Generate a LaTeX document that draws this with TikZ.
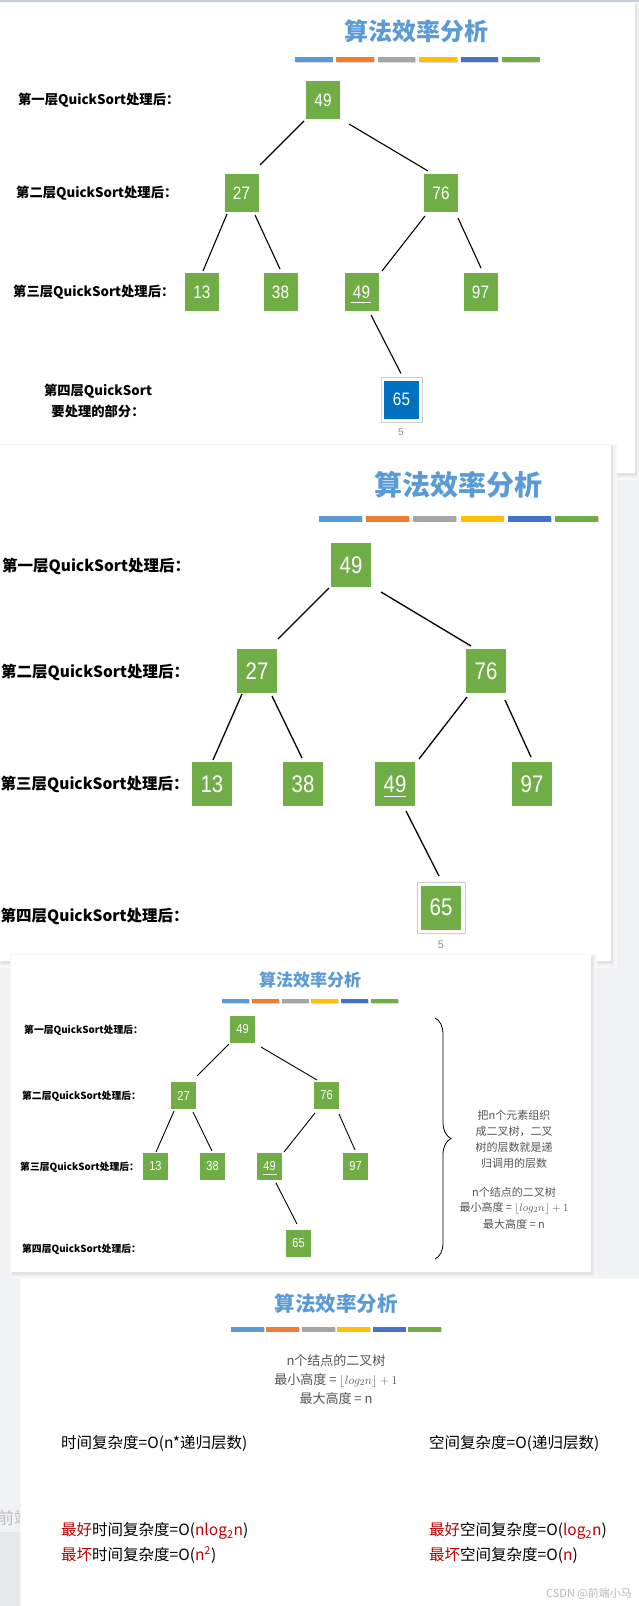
\documentclass[tikz,border=0pt]{standalone}
\usepackage{fontspec}
\setmainfont{Liberation Sans}
\newfontfamily\cjk{Noto Sans CJK SC}
\newfontfamily\numf[FakeStretch=0.85]{Liberation Sans}
\usetikzlibrary{calc,decorations.pathreplacing}
\definecolor{bg}{HTML}{F1F2F5}
\definecolor{tblue}{HTML}{5B9BD5}
\definecolor{cA}{HTML}{5B9BD5}
\definecolor{cB}{HTML}{ED7D31}
\definecolor{cC}{HTML}{A5A5A5}
\definecolor{cD}{HTML}{FFC000}
\definecolor{cE}{HTML}{4472C4}
\definecolor{cF}{HTML}{70AD47}
\definecolor{ngreen}{HTML}{70AD47}
\definecolor{nblue}{HTML}{0070C0}
\definecolor{dred}{HTML}{C00000}
\definecolor{gtext}{HTML}{555555}
\definecolor{topstrip}{HTML}{C4CEDD}
\definecolor{rstrip}{HTML}{E2E5EA}
\definecolor{redmark}{HTML}{E05A5A}
\definecolor{lowleft}{HTML}{E6E7EB}
\newcommand\myfs[1]{\fontsize{#1}{#1}\selectfont}
\newcommand\cbar[5]{\foreach \barcol [count=\bi from 0] in {cA,cB,cC,cD,cE,cF}{%
  \fill[black!15] ({#1+\bi*(#3+#4)+0.8},{#2+0.8}) rectangle ++(#3,#5);
  \fill[\barcol] ({#1+\bi*(#3+#4)},#2) rectangle ++(#3,#5);}}
\newcommand\myslide[4]{%
  \fill[black!3] (#1-1,#2-1) rectangle (#3+6,#4+7);
  \fill[black!6] (#1,#2) rectangle (#3+4,#4+5);
  \fill[black!11] (#1+1,#2+1) rectangle (#3+2,#4+2.5);
  \fill[white] (#1,#2) rectangle (#3,#4);}
\tikzset{
  nd/.style={fill=ngreen, text=white, inner sep=0pt, outer sep=0pt},
  sa/.style={nd, minimum width=34pt, minimum height=38pt, font=\numf\myfs{18}},
  sb/.style={nd, minimum width=40pt, minimum height=44pt, font=\numf\myfs{24}},
  sc/.style={nd, minimum width=25pt, minimum height=27pt, font=\numf\myfs{13}},
  ea/.style={line width=1.1pt, black},
  eb/.style={line width=1.3pt, black},
  ec/.style={line width=0.9pt, black},
  lab/.style={anchor=west, inner sep=0pt, font=\cjk\bfseries},
  ttl/.style={inner sep=0pt, text=tblue, font=\cjk\bfseries},
  pg/.style={inner sep=0pt, text=black!45},
  gt/.style={inner sep=0pt, text=gtext, font=\cjk\myfs{11}},
  ft/.style={inner sep=0pt, text=gtext, font=\cjk\myfs{13}},
  bt/.style={anchor=west, inner sep=0pt, font=\cjk\myfs{15.5}},
}
\begin{document}
\begin{tikzpicture}[x=1pt,y=-1pt]
\useasboundingbox (0,0) rectangle (639,1606);
% background
\fill[bg] (0,0) rectangle (639,1606);
\fill[topstrip] (0,0) rectangle (639,3);
\fill[rstrip] (635,3) rectangle (639,473);
\fill[redmark] (635,76) rectangle (639,100);
\foreach \yy in {365,369,373,377,381,385}{\draw[black!40,line width=0.5pt] (635,\yy) -- (639,\yy);}
\node[anchor=west, inner sep=0pt, text=black!25, font=\cjk\myfs{17}] (qian) at (-3,1518) {前端};
\fill[lowleft] (0,1532) rectangle (21,1606);

%================ slide 1
\myslide{0}{3}{635}{473}
\node[ttl, font=\cjk\bfseries\myfs{24}] (t1) at (416,31) {算法效率分析};
\cbar{295}{57}{37.5}{3.9}{5}
\node[lab, font=\cjk\bfseries\myfs{13.3}] (l11) at (18,100) {第一层QuickSort处理后：};
\node[lab, font=\cjk\bfseries\myfs{13.3}] (l12) at (16,193) {第二层QuickSort处理后：};
\node[lab, font=\cjk\bfseries\myfs{13.3}] (l13) at (13,292) {第三层QuickSort处理后：};
\node[inner sep=0pt, align=center, font=\cjk\bfseries\myfs{13.3}] (l14) at (98,401) {第四层QuickSort\\[6pt]要处理的部分：};
\node[sa] (a49) at (323,100) {49};
\node[sa] (a27) at (241.5,193) {27};
\node[sa] (a76) at (441,193) {76};
\node[sa] (a13) at (202,292) {13};
\node[sa] (a38) at (280.5,292) {38};
\node[sa] (a49b) at (361.5,292) {49};
\node[sa] (a97) at (480.5,292) {97};
\node[draw=black!20, line width=0.8pt, fill=white, minimum width=41pt, minimum height=45pt, inner sep=0pt] (a65f) at (401.5,399.5) {};
\node[sa, fill=nblue, minimum width=35pt] (a65) at (401.5,399.5) {65};
\draw[white, line width=0.8pt] ($(a49b)+(-10.5,10)$) -- ($(a49b)+(9.5,10)$);
\draw[ea] ($(a49)+(-19,21)$) -- ($(a27)+(18.5,-28)$);
\draw[ea] ($(a49)+(26,24)$) -- ($(a76)+(-13,-22)$);
\draw[ea] ($(a27)+(-14.5,21)$) -- ($(a13)+(1,-21)$);
\draw[ea] ($(a27)+(13.5,22)$) -- ($(a38)+(-0.5,-23)$);
\draw[ea] ($(a76)+(-16,23)$) -- ($(a49b)+(20.5,-21)$);
\draw[ea] ($(a76)+(17,25)$) -- ($(a97)+(0.5,-24)$);
\draw[ea] ($(a49b)+(9.5,23)$) -- ($(a65)+(-0.5,-26)$);
\node[pg, font=\myfs{10}] (p1) at (401,432) {5};

%================ slide 2
\myslide{0}{445}{611}{961}
\node[ttl, font=\cjk\bfseries\myfs{28}] (t2) at (458,485) {算法效率分析};
\cbar{319}{516}{43}{4.2}{5.5}
\node[lab, font=\cjk\bfseries\myfs{15.5}] (l21) at (2,566) {第一层QuickSort处理后：};
\node[lab, font=\cjk\bfseries\myfs{15.5}] (l22) at (1,672) {第二层QuickSort处理后：};
\node[lab, font=\cjk\bfseries\myfs{15.5}] (l23) at (0.5,784) {第三层QuickSort处理后：};
\node[lab, font=\cjk\bfseries\myfs{15.5}] (l24) at (0.5,916) {第四层QuickSort处理后：};
\node[sb] (b49) at (351,565) {49};
\node[sb] (b27) at (257,671) {27};
\node[sb] (b76) at (486,671) {76};
\node[sb] (b13) at (212,784) {13};
\node[sb] (b38) at (303,784) {38};
\node[sb] (b49b) at (395,784) {49};
\node[sb] (b97) at (532,784) {97};
\node[draw=black!20, line width=0.8pt, fill=white, minimum width=48pt, minimum height=51pt, inner sep=0pt] (b65f) at (441,907.5) {};
\node[sb] (b65) at (441,907.5) {65};
\draw[white, line width=0.9pt] ($(b49b)+(-11,12)$) -- ($(b49b)+(11,12)$);
\draw[eb] ($(b49)+(-22,23)$) -- ($(b27)+(21,-32)$);
\draw[eb] ($(b49)+(30,27)$) -- ($(b76)+(-15,-25)$);
\draw[eb] ($(b27)+(-15,23)$) -- ($(b13)+(1,-24)$);
\draw[eb] ($(b27)+(15,25)$) -- ($(b38)+(-1,-26)$);
\draw[eb] ($(b76)+(-19,26)$) -- ($(b49b)+(24,-25)$);
\draw[eb] ($(b76)+(19,29)$) -- ($(b97)+(-1,-27)$);
\draw[eb] ($(b49b)+(11,27)$) -- ($(b65)+(-2,-31.5)$);
\node[pg, font=\myfs{11}] (p2) at (441,945) {5};

%================ slide 3
\myslide{11}{955}{591}{1272}
\node[ttl, font=\cjk\bfseries\myfs{17}] (t3) at (310,980) {算法效率分析};
\cbar{222}{999}{27}{2.8}{4}
\node[lab, font=\cjk\bfseries\myfs{9.8}] (l31) at (24,1030) {第一层QuickSort处理后：};
\node[lab, font=\cjk\bfseries\myfs{9.8}] (l32) at (22,1096) {第二层QuickSort处理后：};
\node[lab, font=\cjk\bfseries\myfs{9.8}] (l33) at (20,1167) {第三层QuickSort处理后：};
\node[lab, font=\cjk\bfseries\myfs{9.8}] (l34) at (22,1249) {第四层QuickSort处理后：};
\node[sc] (c49) at (242.5,1029.5) {49};
\node[sc] (c27) at (183.5,1095.5) {27};
\node[sc] (c76) at (326.5,1095.5) {76};
\node[sc] (c13) at (155.5,1166.5) {13};
\node[sc] (c38) at (212.5,1166.5) {38};
\node[sc] (c49b) at (269.5,1166.5) {49};
\node[sc] (c97) at (355.5,1166.5) {97};
\node[sc] (c65) at (298.5,1243.5) {65};
\draw[white!80!ngreen, line width=0.6pt] ($(c49b)+(-7,7.5)$) -- ($(c49b)+(7,7.5)$);
\draw[ec] ($(c49)+(-13.5,14.5)$) -- ($(c27)+(13.5,-19.5)$);
\draw[ec] ($(c49)+(18.5,17.5)$) -- ($(c76)+(-9.5,-15.5)$);
\draw[ec] ($(c27)+(-9.5,15.5)$) -- ($(c13)+(0.5,-14.5)$);
\draw[ec] ($(c27)+(9.5,16.5)$) -- ($(c38)+(-0.5,-15.5)$);
\draw[ec] ($(c76)+(-11.5,17.5)$) -- ($(c49b)+(14.5,-14.5)$);
\draw[ec] ($(c76)+(12.5,18.5)$) -- ($(c97)+(-0.5,-16.5)$);
\draw[ec] ($(c49b)+(6.5,16.5)$) -- ($(c65)+(-1.5,-19.5)$);
\draw[line width=0.8pt, decorate, decoration={brace, amplitude=16pt}] (435,1018) -- (435,1259);
\node[gt] (r1) at (514,1115) {把n个元素组织};
\node[gt] (r2) at (514,1131) {成二叉树，二叉};
\node[gt] (r3) at (514,1147) {树的层数就是递};
\node[gt] (r4) at (514,1163) {归调用的层数};
\node[gt] (r5) at (514,1192) {n个结点的二叉树};
\node[gt] (r6) at (514,1208) {最小高度 = $\lfloor log_2 n\rfloor+1$};
\node[gt] (r7) at (514,1224) {最大高度 = n};

%================ slide 4
\myslide{21}{1279}{645}{1612}
\node[ttl, font=\cjk\bfseries\myfs{20.5}] (t4) at (336,1304) {算法效率分析};
\cbar{231}{1327}{33}{2.4}{4.5}
\node[ft] (f1) at (336,1361) {n个结点的二叉树};
\node[ft] (f2) at (336,1380) {最小高度 = $\lfloor log_2 n\rfloor+1$};
\node[ft] (f3) at (336,1399) {最大高度 = n};
\node[bt] (s1) at (61,1443) {时间复杂度=O(n*递归层数)};
\node[bt] (s2) at (429,1443) {空间复杂度=O(递归层数)};
\node[bt] (s3) at (61,1531) {\textcolor{dred}{最好}时间复杂度=O(\textcolor{dred}{nlog\textsubscript{2}n})};
\node[bt] (s4) at (61,1555) {\textcolor{dred}{最坏}时间复杂度=O(\textcolor{dred}{n\textsuperscript{2}})};
\node[bt] (s5) at (429,1531) {\textcolor{dred}{最好}空间复杂度=O(\textcolor{dred}{log\textsubscript{2}n})};
\node[bt] (s6) at (429,1555) {\textcolor{dred}{最坏}空间复杂度=O(\textcolor{dred}{n})};
\node[inner sep=0pt, text=black!28, font=\cjk\myfs{11}] (wm) at (589,1594) {CSDN @前端小马};
\end{tikzpicture}
\end{document}
